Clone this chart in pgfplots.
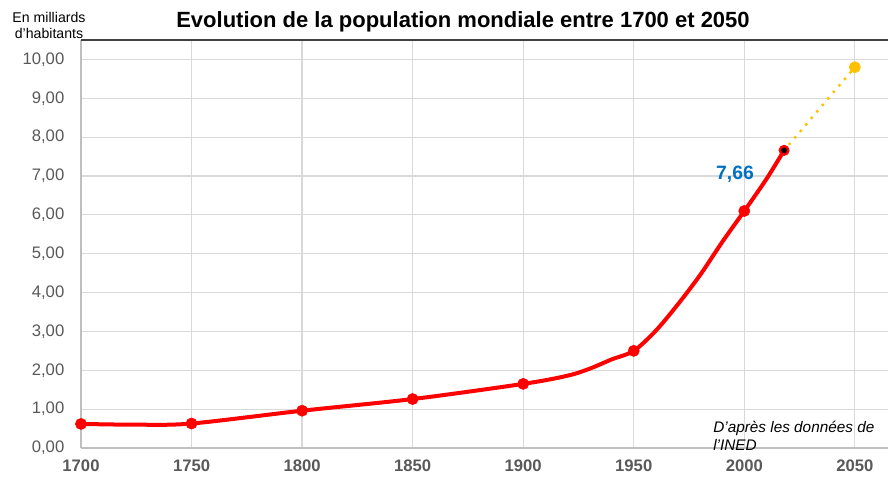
\documentclass[border=0pt]{standalone}
\usepackage{pgfplots}
\pgfplotsset{compat=1.18}
\usepackage{fontspec}
\setmainfont{Liberation Sans}
\definecolor{tickgray}{RGB}{89,89,89}
\definecolor{gridgray}{RGB}{217,217,217}
\definecolor{axgray}{RGB}{191,191,191}
\definecolor{topgray}{RGB}{64,64,64}
\definecolor{lblue}{RGB}{0,112,192}
\definecolor{gold}{RGB}{255,192,0}
\begin{document}
\begin{tikzpicture}
\useasboundingbox (-60.75pt,-24pt) rectangle (605.25pt,336pt);
\begin{axis}[
  at={(0,0)}, anchor=south west,
  scale only axis, width=605.25pt, height=306pt,
  xmin=1700, xmax=2065, ymin=0, ymax=10.5,
  axis line style={draw=none},
  clip=false,
  xtick={1700,1750,1800,1850,1900,1950,2000,2050},
  xticklabels={1700,1750,1800,1850,1900,1950,2000,2050},
  ytick={0,1,2,3,4,5,6,7,8,9,10},
  yticklabels={{0,00},{1,00},{2,00},{3,00},{4,00},{5,00},{6,00},{7,00},{8,00},{9,00},{10,00}},
  major tick length=0pt,
  xmajorgrids, ymajorgrids,
  grid style={draw=gridgray, line width=0.9pt},
  yticklabel style={font=\fontsize{12.5}{15}\selectfont, text=tickgray, anchor=east, xshift=-9pt},
  xticklabel style={font=\bfseries\fontsize{12.5}{15}\selectfont, text=tickgray, anchor=north, yshift=-5pt},
]
\draw[axgray, line width=1.1pt] (rel axis cs:0,0) -- (rel axis cs:0,1);
\draw[axgray, line width=1.1pt] (rel axis cs:0,0) -- (rel axis cs:1,0);
\draw[topgray, line width=1.1pt] (rel axis cs:0,1) -- (rel axis cs:1,1);

% projection (dotted)
\addplot[gold, line width=2.6pt, line cap=round, dash pattern=on 0pt off 6.4pt] coordinates {(2018,7.66) (2050,9.80)};
\addplot[only marks, mark=*, mark size=4.2pt, mark options={fill=gold, draw=gold}] coordinates {(2050,9.80)};

% population curve
\addplot[red, line width=3pt, smooth, tension=0.5] coordinates {
(1700,0.62) (1725,0.60) (1750,0.63) (1800,0.96) (1850,1.26) (1900,1.65)
(1920,1.86) (1930,2.04) (1940,2.28) (1950,2.50) (1960,3.02) (1970,3.70)
(1980,4.45) (1990,5.30) (2000,6.10) (2010,6.92) (2018,7.66)};
\addplot[only marks, mark=*, mark size=4.2pt, mark options={fill=red, draw=red}] coordinates {
(1700,0.62) (1750,0.63) (1800,0.96) (1850,1.26) (1900,1.65) (1950,2.50) (2000,6.10)};
\addplot[only marks, mark=*, mark size=3.2pt, mark options={fill=black, draw=red, line width=1.8pt}] coordinates {(2018,7.66)};
\end{axis}
\node[font=\bfseries\fontsize{16.5}{19}\selectfont, text=black] at (286.5pt,319.5pt) {Evolution de la population mondiale entre 1700 et 2050};
\node[font=\fontsize{10.6}{12}\selectfont, text=black, align=center] at (-24pt,317pt) {En milliards\\d’habitants};
\node[font=\bfseries\fontsize{14.5}{17}\selectfont, text=lblue] at (490.5pt,205.5pt) {7,66};
\node[font=\itshape\fontsize{11.5}{13.5}\selectfont, anchor=base west, inner sep=0pt] at (474pt,12pt) {D’après les données de};
\node[font=\itshape\fontsize{11.5}{13.5}\selectfont, anchor=base west, inner sep=0pt] at (474pt,-1.5pt) {l’INED};
\end{tikzpicture}
\end{document}
